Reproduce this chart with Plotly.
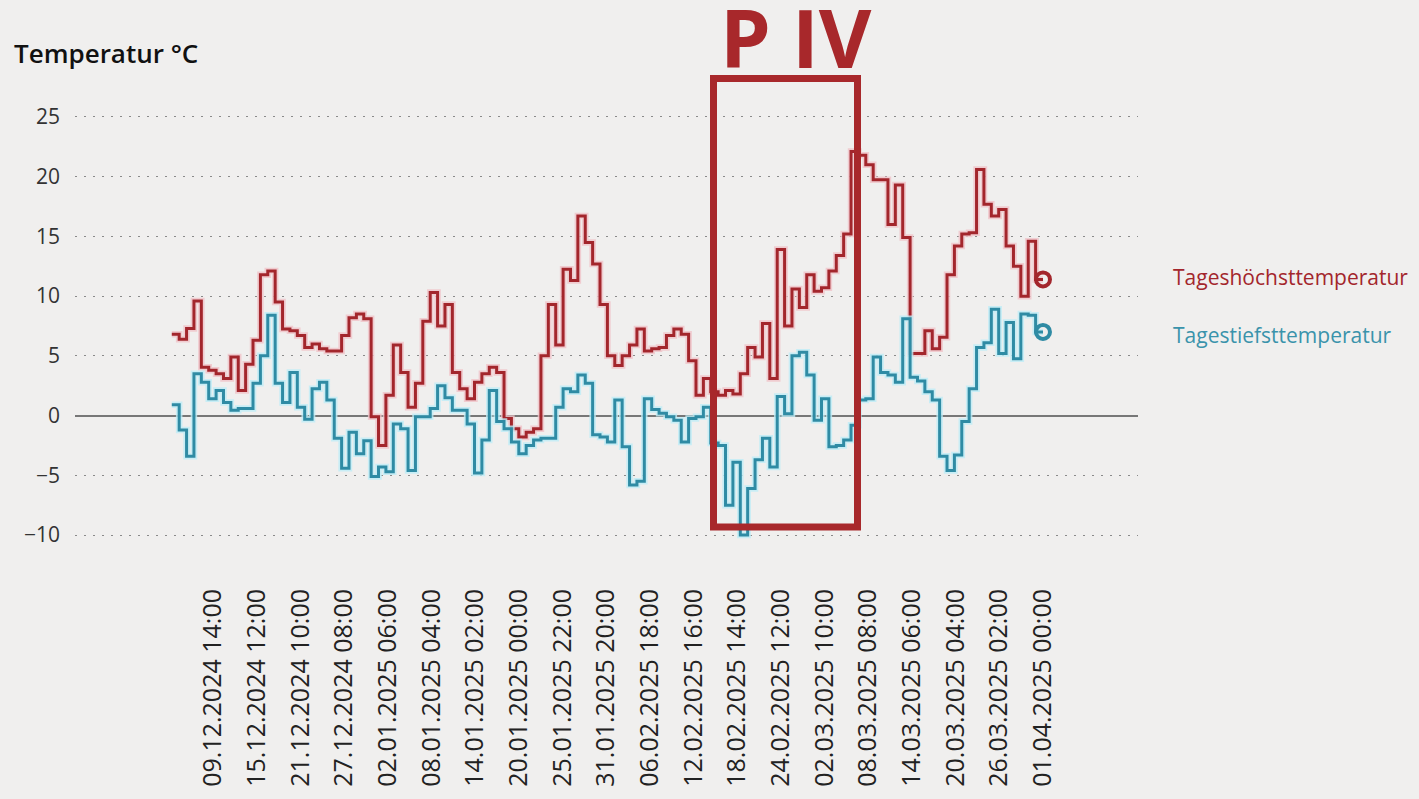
import pandas as pd
import plotly.graph_objects as go

# ---------------- data ----------------
start_date = "2024-12-04"

tmax = [6.8, 6.4, 7.3, 9.6, 4.05, 3.8, 3.5, 3.1, 4.9, 2.1,
        4.3, 6.3, 11.8, 12.1, 9.5, 7.25, 7.1, 6.7, 5.7, 6.0,
        5.6, 5.4, 5.4, 6.7, 8.2, 8.5, 8.1, -0.1, -2.5, 1.7,
        5.9, 3.6, 0.7, 2.7, 7.9, 10.3, 7.5, 9.3, 3.6, 2.25,
        1.4, 2.8, 3.5, 4.05, 3.6, -0.25, -1.1, -1.8, -1.4, -1.1,
        5.0, 9.3, 5.9, 12.25, 11.3, 16.7, 14.5, 12.7, 9.3, 5.0,
        4.2, 5.0, 5.9, 7.25, 5.4, 5.6, 5.7, 6.7, 7.25, 6.8,
        4.6, 1.7, 3.1, 2.0, 1.7, 2.1, 1.8, 3.5, 5.7, 4.9,
        7.7, 3.1, 13.9, 7.5, 10.6, 9.05, 11.8, 10.4, 10.7, 12.1,
        13.4, 15.2, 22.1, 21.8, 21.0, 19.75, 19.75, 16.0, 19.3, 14.9,
        5.2, 5.2, 7.1, 5.6, 6.55, 11.8, 14.2, 15.2, 15.3, 20.6,
        17.7, 16.7, 17.25, 14.2, 12.5, 10.0, 14.6, 11.4]

tmin = [0.9, -1.2, -3.4, 3.5, 2.8, 1.4, 2.1, 1.1, 0.45, 0.6,
        0.6, 2.7, 5.0, 8.4, 2.7, 1.1, 3.6, 0.7, -0.3, 2.25,
        2.8, 1.3, -1.9, -4.4, -1.4, -3.2, -2.1, -5.1, -4.3, -4.7,
        -0.7, -1.1, -4.6, -0.1, -0.1, 0.6, 2.5, 1.5, 0.45, 0.45,
        -0.7, -4.8, -2.05, 2.1, -0.5, -1.1, -2.2, -3.2, -2.5, -2.05,
        -1.9, -1.9, 0.7, 2.25, 2.0, 3.4, 2.7, -1.6, -1.8, -2.2,
        1.3, -2.6, -5.8, -5.5, 1.4, 0.5, 0.2, -0.1, -0.4, -2.2,
        -0.25, -0.1, 0.7, -2.3, -2.5, -7.5, -3.9, -10.0, -6.1, -3.7,
        -1.9, -4.3, 1.6, 0.15, 5.0, 5.3, 3.4, -0.4, 1.4, -2.6,
        -2.5, -2.05, -0.8, 1.3, 1.4, 4.9, 3.6, 3.4, 2.8, 8.1,
        3.2, 2.9, 2.0, 1.3, -3.4, -4.6, -3.3, -0.5, 2.25, 5.7,
        6.1, 8.9, 5.2, 7.8, 4.75, 8.5, 8.4, 7.0]

end_max = 11.4
end_min = 7.0

tick_labels = ["09.12.2024 14:00", "15.12.2024 12:00", "21.12.2024 10:00",
               "27.12.2024 08:00", "02.01.2025 06:00", "08.01.2025 04:00",
               "14.01.2025 02:00", "20.01.2025 00:00", "25.01.2025 22:00",
               "31.01.2025 20:00", "06.02.2025 18:00", "12.02.2025 16:00",
               "18.02.2025 14:00", "24.02.2025 12:00", "02.03.2025 10:00",
               "08.03.2025 08:00", "14.03.2025 06:00", "20.03.2025 04:00",
               "26.03.2025 02:00", "01.04.2025 00:00"]

y_ticks = [-10, -5, 0, 5, 10, 15, 20, 25]

series_names = ["Tageshöchsttemperatur", "Tagestiefsttemperatur"]

# ---------------- styling / layout helpers ----------------
W, H = 1419, 799
PL, PR, PT, PB = 75, 1138, 105, 549          # plot area in pixels
PX_PER_DAY = 7.383
X0_PX = 171.8                                 # pixel of start_date

RED = "#a3262c"
RED_HALO = "rgba(240,195,200,0.8)"
BLUE = "#2f8ba4"
BLUE_HALO = "rgba(190,236,246,0.8)"
BG = "#f0efee"
FONT = "Open Sans"

def pxx(px):
    return (px - PL) / (PR - PL)

def pxy(py):
    return (PB - py) / (PB - PT)

start = pd.Timestamp(start_date)
dates = pd.date_range(start, periods=len(tmax) + 1, freq="D")
ymax = tmax + [end_max]
ymin = tmin + [end_min]

x_lo = start + pd.Timedelta(days=(PL - X0_PX) / PX_PER_DAY)
x_hi = start + pd.Timedelta(days=(PR - X0_PX) / PX_PER_DAY)

tick_vals = [pd.to_datetime(t, format="%d.%m.%Y %H:%M") for t in tick_labels]

fig = go.Figure()

for y, col, halo, name in [(ymax, RED, RED_HALO, series_names[0]),
                           (ymin, BLUE, BLUE_HALO, series_names[1])]:
    fig.add_trace(go.Scatter(x=dates, y=y, mode="lines", line_shape="hv",
                             line=dict(color=halo, width=6.5),
                             hoverinfo="skip", showlegend=False))
    fig.add_trace(go.Scatter(x=dates, y=y, mode="lines", line_shape="hv",
                             line=dict(color=col, width=3), name=name,
                             showlegend=False))
    fig.add_trace(go.Scatter(x=[dates[-1]], y=[y[-1]], mode="markers",
                             marker=dict(symbol="circle-open", size=14, color=col,
                                         line=dict(width=4, color=col)),
                             showlegend=False, hoverinfo="skip"))

fig.update_layout(
    width=W, height=H,
    margin=dict(l=PL, r=W - PR, t=PT, b=H - PB, pad=0),
    paper_bgcolor=BG, plot_bgcolor=BG,
    font=dict(family=FONT, color="#2a2a2a"),
    title=dict(text="Temperatur °C", xref="container", yref="container",
               x=14 / W, xanchor="left", y=1 - 54 / H, yanchor="middle",
               font=dict(family=FONT, size=26, color="#111111", weight=600)),
    showlegend=False,
)

fig.update_xaxes(
    type="date", range=[x_lo, x_hi],
    tickvals=tick_vals, ticktext=tick_labels, tickangle=-90,
    tickfont=dict(family=FONT, size=25, color="#222222"),
    showgrid=False, zeroline=False, showline=False, ticks="",
    ticklabelstandoff=36,
)

fig.update_yaxes(
    range=[-11, 26], tickvals=y_ticks,
    tickfont=dict(family=FONT, size=21, color="#333333"),
    showgrid=True, gridcolor="#8a8a8a", gridwidth=1.3, griddash="2px,7px",
    zeroline=True, zerolinecolor="#777777", zerolinewidth=2,
    showline=False, ticks="", ticklabelstandoff=14,
)

# legend as coloured texts
fig.add_annotation(text=series_names[0], xref="paper", yref="paper",
                   x=pxx(1171), y=pxy(278), xanchor="left", yanchor="middle",
                   showarrow=False, font=dict(family=FONT, size=21, color=RED))
fig.add_annotation(text=series_names[1], xref="paper", yref="paper",
                   x=pxx(1171), y=pxy(336), xanchor="left", yanchor="middle",
                   showarrow=False, font=dict(family=FONT, size=21, color="#3a93ab"))

# P IV highlight
BOX = "#a8282b"
fig.add_shape(type="rect", xref="paper", yref="paper",
              x0=pxx(713.5), x1=pxx(857.5), y0=pxy(529), y1=pxy(78.5),
              line=dict(color=BOX, width=7), fillcolor="rgba(0,0,0,0)")
fig.add_annotation(text="<b>P IV</b>", xref="paper", yref="paper",
                   x=pxx(796), y=pxy(72), xanchor="center", yanchor="bottom",
                   yshift=-22, showarrow=False,
                   font=dict(family=FONT, size=81, color=BOX))

fig.write_html("out.html", config={"displayModeBar": False},
               post_script="document.body.style.margin='0';")
